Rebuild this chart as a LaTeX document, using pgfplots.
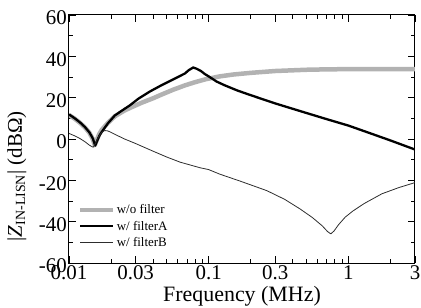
\documentclass[border=0pt]{standalone}
\usepackage{fontspec}
\setmainfont{Liberation Serif}
\usepackage{pgfplots}
\pgfplotsset{compat=1.18}
\definecolor{woGray}{RGB}{178,178,178}
\definecolor{thinLine}{RGB}{45,45,45}

\begin{document}
\begin{tikzpicture}
\useasboundingbox (-69bp,-45bp) rectangle (352bp,263bp);
\begin{axis}[
  at={(0,0)}, anchor=south west,
  scale only axis, width=346bp, height=248bp,
  xmode=log, xmin=0.01, xmax=3, ymin=-60, ymax=60,
  xtick={0.01,0.03,0.1,0.3,1,3},
  xticklabels={0.01,0.03,0.1,0.3,1,3},
  minor xtick={0.02,0.04,0.05,0.06,0.07,0.08,0.09,0.2,0.4,0.5,0.6,0.7,0.8,0.9,2},
  ytick={-60,-40,-20,0,20,40,60},
  yticklabels={-60,-40,-20,0,20,40,60},
  minor ytick={-50,-30,-10,10,30,50},
  tick align=inside,
  major tick length=7bp, minor tick length=4bp,
  tick style={black, line width=0.8bp},
  axis line style={line width=1bp},
  ticklabel style={font=\fontsize{21}{24}\selectfont},
  xticklabel style={inner sep=0pt, yshift=-2bp},
  yticklabel style={inner sep=0pt, xshift=-2bp, yshift=-3bp},
  xlabel={Frequency (MHz)},
  xlabel style={at={(axis description cs:0.5,-0.157)}, anchor=base, font=\fontsize{22}{26}\selectfont},
  ylabel={|\textit{Z}\textsubscript{\fontsize{14}{14}\selectfont IN-LISN}|\ (dBΩ)},
  ylabel style={at={(axis description cs:-0.136,0.35)}, anchor=base, font=\fontsize{21}{24}\selectfont},
  legend style={at={(axis description cs:0.025,0.055)}, anchor=south west,
    draw=none, fill=none, inner sep=0pt,
    font=\fontsize{13}{15}\selectfont, row sep=2.5bp,
    nodes={inner sep=1.5bp}},
  legend cell align=left,
  legend image code/.code={\draw[#1] (0bp,0bp) -- (33bp,0bp);},
]
% without filter
\addplot[woGray, line width=4.5bp, line join=round] coordinates {
  (0.010,11.6) (0.011,9.8) (0.012,7.8) (0.013,5.6) (0.014,3.0) (0.0148,0.0)
  (0.0153,-3.0) (0.0158,-0.5) (0.0165,2.5) (0.0172,4.5) (0.019,7.8) (0.0213,11.0)
  (0.025,13.8) (0.0281,15.4) (0.033,17.5) (0.04,19.7) (0.046,21.5) (0.056,23.9)
  (0.068,26.0) (0.08,27.5) (0.095,28.9) (0.12,30.3) (0.15,31.2) (0.2,32.0)
  (0.3,32.9) (0.5,33.5) (0.7,33.7) (1,33.8) (2,33.8) (3,33.8)
};
\addlegendentry{w/o filter}
% filter A
\addplot[black, line width=2.3bp, line join=round] coordinates {
  (0.010,11.9) (0.011,10.0) (0.012,8.0) (0.013,5.8) (0.014,3.2) (0.0148,0.3)
  (0.0154,-3.2) (0.0160,-0.5) (0.0165,1.6) (0.0171,3.3) (0.019,7.6) (0.0213,11.4)
  (0.025,14.6) (0.0273,16.3) (0.0314,19.5) (0.038,23.0) (0.0459,26.0) (0.056,28.9)
  (0.0676,31.7) (0.072,33.3) (0.0775,34.6) (0.082,34.0) (0.088,32.9) (0.094,31.4)
  (0.1,30.3) (0.114,27.8) (0.13,26.0) (0.16,23.5) (0.198,21.3) (0.25,19.0)
  (0.3,17.2) (0.5,12.6) (0.7,9.6) (1,6.5) (1.5,2.3) (2,-0.7) (3,-5.1)
};
\addlegendentry{w/ filterA}
% filter B
\addplot[thinLine, line width=0.8bp, line join=round] coordinates {
  (0.010,2.7) (0.011,1.5) (0.012,0.2) (0.013,-1.3) (0.014,-3.0) (0.0149,-4.0)
  (0.0155,-2.0) (0.0162,0.8) (0.017,3.0) (0.018,4.1) (0.019,3.9) (0.020,3.2)
  (0.022,1.8) (0.025,0.0) (0.03,-2.2) (0.04,-5.9) (0.05,-8.7) (0.0624,-11.2)
  (0.0866,-13.9) (0.1,-14.8) (0.12,-17.0) (0.17,-20.5) (0.261,-25.0) (0.35,-29.2)
  (0.45,-33.8) (0.55,-37.9) (0.65,-42.0) (0.71,-44.8) (0.749,-45.9) (0.79,-44.5)
  (0.85,-41.5) (0.95,-37.8) (1.08,-34.8) (1.3,-31.2) (1.74,-26.5) (2.3,-23.5)
  (3.0,-21.1)
};
\addlegendentry{w/ filterB}
\end{axis}
\end{tikzpicture}
\end{document}
